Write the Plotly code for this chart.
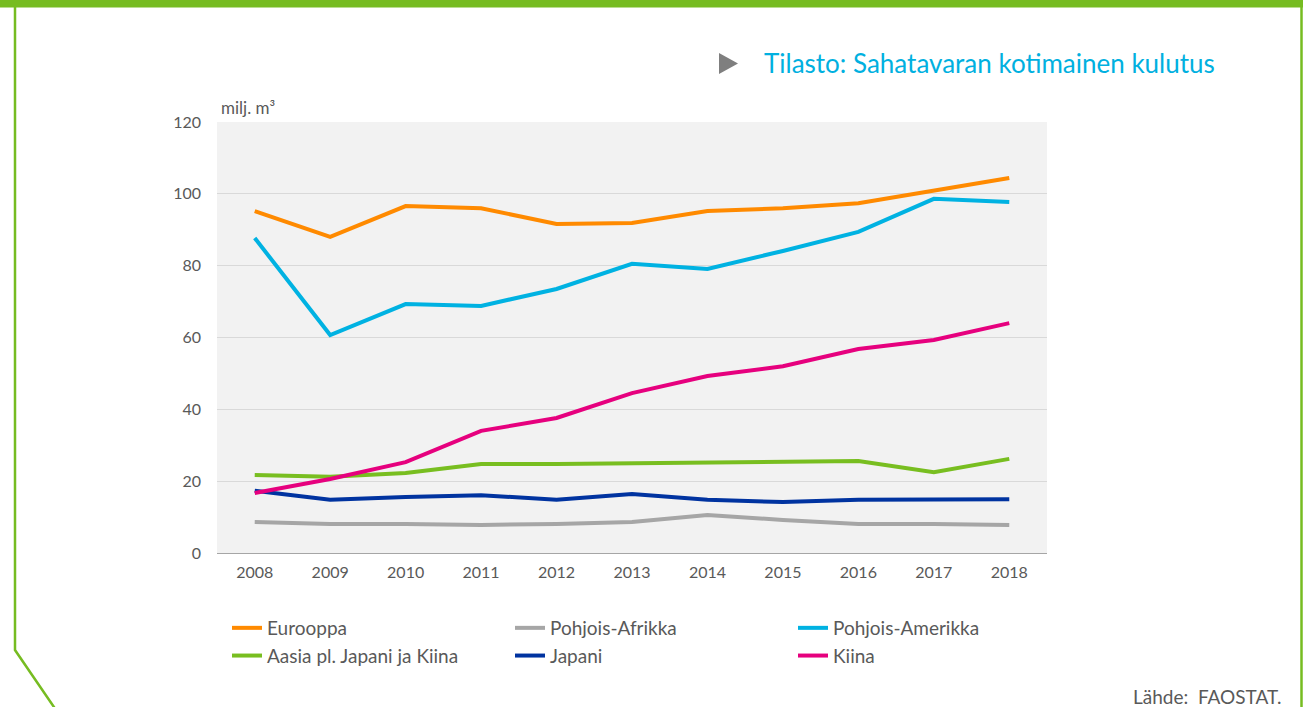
import plotly.graph_objects as go

years = ["2008", "2009", "2010", "2011", "2012", "2013", "2014", "2015", "2016", "2017", "2018"]

eurooppa = [95.2, 88.0, 96.6, 96.0, 91.6, 91.9, 95.2, 96.0, 97.4, 101.0, 104.4]
pohjois_afrikka = [8.6, 8.1, 8.1, 7.8, 8.1, 8.6, 10.6, 9.2, 8.1, 8.1, 7.8]
pohjois_amerikka = [87.7, 60.7, 69.3, 68.8, 73.5, 80.5, 79.1, 84.1, 89.4, 98.6, 97.7]
aasia = [21.7, 21.2, 22.3, 24.8, 24.8, 25.0, 25.3, 25.6, 25.6, 22.5, 26.2]
japani = [17.3, 14.8, 15.6, 16.1, 14.8, 16.4, 14.8, 14.2, 14.8, 14.8, 15.0]
kiina = [16.7, 20.6, 25.3, 34.0, 37.6, 44.5, 49.3, 52.0, 56.8, 59.3, 64.0]

series = [
    ("Eurooppa", eurooppa, "#FF8A00", "legend"),
    ("Pohjois-Afrikka", pohjois_afrikka, "#A6A6A6", "legend2"),
    ("Pohjois-Amerikka", pohjois_amerikka, "#00B2E2", "legend3"),
    ("Aasia pl. Japani ja Kiina", aasia, "#78BE20", "legend"),
    ("Japani", japani, "#0033A0", "legend2"),
    ("Kiina", kiina, "#E6007E", "legend3"),
]

W, H = 1303, 707
L, R, T, B = 217, 1047, 122, 553
FONT = "Lato"
TXT = "#595959"


def px(x):
    return (x - L) / (R - L)


def py(y):
    return (B - y) / (B - T)


fig = go.Figure()
for name, vals, color, lg in series:
    fig.add_trace(go.Scatter(
        x=years, y=vals, name=name, mode="lines",
        line=dict(color=color, width=4),
        legend=lg, hoverinfo="x+y+name",
    ))

legend_common = dict(
    orientation="v", yanchor="top", xanchor="left",
    font=dict(family=FONT, size=19, color=TXT),
    bgcolor="rgba(0,0,0,0)", tracegroupgap=0, itemwidth=30,
)

shapes = [
    # top green bar
    dict(type="rect", xref="paper", yref="paper", x0=px(0), x1=px(W), y0=py(0), y1=py(7.5),
         fillcolor="#76BC21", line=dict(width=0), layer="above"),
    # left border with diagonal
    dict(type="path", xref="paper", yref="paper",
         path=f"M {px(15)} {py(7)} L {px(15)} {py(650)} L {px(56)} {py(710)}",
         line=dict(color="#76BC21", width=2.5), layer="above"),
    # right border
    dict(type="line", xref="paper", yref="paper", x0=px(1301.5), x1=px(1301.5), y0=py(0), y1=py(707),
         line=dict(color="#76BC21", width=2.5), layer="above"),
    # gray triangle
    dict(type="path", xref="paper", yref="paper",
         path=f"M {px(719)} {py(53)} L {px(738)} {py(63.5)} L {px(719)} {py(74)} Z",
         fillcolor="#7F7F7F", line=dict(width=0), layer="above"),
]

annotations = [
    dict(text="Tilasto: Sahatavaran kotimainen kulutus", xref="paper", yref="paper",
         x=px(762), y=py(63), xanchor="left", yanchor="middle", showarrow=False,
         font=dict(family=FONT, size=26, color="#00B0E0")),
    dict(text="milj. m³", xref="paper", yref="paper", x=px(219), y=py(108),
         xanchor="left", yanchor="middle", showarrow=False,
         font=dict(family=FONT, size=17, color=TXT)),
    dict(text="Lähde:  FAOSTAT.", xref="paper", yref="paper", x=px(1283), y=py(696),
         xanchor="right", yanchor="middle", showarrow=False,
         font=dict(family=FONT, size=19, color=TXT)),
]

fig.update_layout(
    width=W, height=H,
    margin=dict(l=L, r=W - R, t=T, b=H - B, pad=0),
    paper_bgcolor="white", plot_bgcolor="#F2F2F2",
    font=dict(family=FONT, color=TXT, size=16),
    showlegend=True,
    legend=dict(x=px(227), y=py(609), **legend_common),
    legend2=dict(x=px(510), y=py(609), **legend_common),
    legend3=dict(x=px(793), y=py(609), **legend_common),
    shapes=shapes,
    annotations=annotations,
    xaxis=dict(
        type="category", range=[-0.5, len(years) - 0.5],
        showgrid=False, showline=True, linecolor="#A6A6A6", linewidth=1,
        ticks="", tickfont=dict(family=FONT, size=16, color=TXT),
        ticklabelstandoff=5, zeroline=False, fixedrange=True,
    ),
    yaxis=dict(
        range=[0, 120], dtick=20, tick0=0, showgrid=True, gridcolor="#D9D9D9", gridwidth=1,
        showline=False, zeroline=False, ticks="",
        tickfont=dict(family=FONT, size=16, color=TXT),
        ticklabelstandoff=15, fixedrange=True,
    ),
)

fig.write_html(
    "out.html",
    config={"displayModeBar": False},
    post_script="document.body.style.margin='0';document.body.style.overflow='hidden';",
)
